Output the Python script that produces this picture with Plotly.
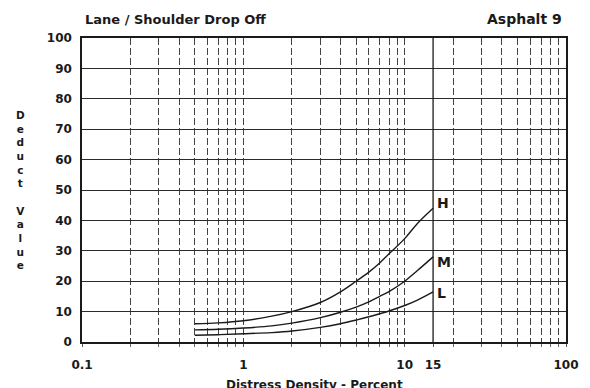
import math
import plotly.graph_objects as go

# ---- data ----
density = [0.5, 0.7, 1, 1.5, 2, 3, 4, 5, 6, 7, 8, 10, 12, 15]
high = [6, 6.3, 7, 8.5, 10, 13, 16.5, 20, 23, 26, 29, 34, 39, 44]
medium = [4, 4.2, 4.6, 5.3, 6.2, 8, 9.8, 11.5, 13.2, 15, 16.6, 20, 23.5, 28]
low = [2.2, 2.4, 2.7, 3.1, 3.6, 4.8, 6, 7.2, 8.3, 9.3, 10.2, 12, 13.8, 16.5]
series = [("H", high, 5), ("M", medium, -5), ("L", low, -1)]

x_tickvals = [0.1, 1, 10, 15, 100]
x_ticktext = ["0.1", "1", "10", "15", "100"]
x_minor = [m * d for d in (0.1, 1, 10) for m in range(1, 10)] + [100]
y_ticks = list(range(0, 101, 10))
max_density = 15

FONT = "DejaVu Sans, Verdana, sans-serif"
INK = "#1a1a1a"

fig = go.Figure()
for name, vals, _ in series:
    fig.add_trace(go.Scatter(x=density, y=vals, mode="lines", name=name,
                             line=dict(color=INK, width=1.4, shape="spline"),
                             showlegend=False))
for name, vals, ys in series:
    fig.add_annotation(x=math.log10(density[-1]), y=vals[-1], xref="x", yref="y",
                       text="<b>%s</b>" % name, showarrow=False,
                       xanchor="left", yanchor="middle",
                       xshift=2, yshift=ys,
                       font=dict(family=FONT, size=14, color=INK))

# vertical reference line at 15 %
fig.add_shape(type="line", xref="x", yref="paper", x0=max_density, x1=max_density,
              y0=0, y1=1, line=dict(color=INK, width=1.3))

fig.update_xaxes(type="log", range=[-1, 2],
                 tickvals=x_tickvals, ticktext=["<b>%s</b>" % t for t in x_ticktext],
                 showgrid=False, ticks="outside", ticklen=3, tickcolor="#555",
                 ticklabelstandoff=8,
                 showline=True, linecolor=INK, linewidth=1.5, mirror=True,
                 tickfont=dict(family=FONT, size=12, color=INK),
                 minor=dict(tickvals=x_minor, showgrid=True, gridcolor="#444",
                            gridwidth=1, griddash="7px,3px",
                            ticks="outside", ticklen=3, tickcolor="#666"),
                 zeroline=False)
fig.update_yaxes(range=[0, 100], tickvals=y_ticks,
                 ticktext=["<b>%d</b>" % v for v in y_ticks],
                 showgrid=True, gridcolor="#2a2a2a", gridwidth=1.4,
                 ticks="", ticklabelstandoff=6,
                 showline=True, linecolor=INK, linewidth=1.5, mirror=True,
                 tickfont=dict(family=FONT, size=12, color=INK),
                 zeroline=False)

fig.add_annotation(xref="paper", yref="paper", x=0.002, y=1.03,
                   xanchor="left", yanchor="bottom", showarrow=False,
                   text="<b>Lane / Shoulder Drop Off</b>",
                   font=dict(family=FONT, size=13, color=INK))
fig.add_annotation(xref="paper", yref="paper", x=0.995, y=1.03,
                   xanchor="right", yanchor="bottom", showarrow=False,
                   text="<b>Asphalt 9</b>",
                   font=dict(family=FONT, size=14, color=INK))
fig.add_annotation(xref="paper", yref="paper", x=-0.128, y=0.5,
                   xanchor="center", yanchor="middle", showarrow=False,
                   text="<b>" + "<br>".join(list("Deduct")) + "<br><br>"
                        + "<br>".join(list("Value")) + "</b>",
                   font=dict(family=FONT, size=10.5, color=INK))
fig.add_annotation(xref="paper", yref="paper", x=0.48, y=-0.112,
                   xanchor="center", yanchor="top", showarrow=False,
                   text="<b>Distress Density - Percent</b>",
                   font=dict(family=FONT, size=12, color=INK))

fig.update_layout(width=590, height=388,
                  margin=dict(l=82, r=24, t=38, b=46),
                  paper_bgcolor="white", plot_bgcolor="white")

fig.write_html("out.html")
